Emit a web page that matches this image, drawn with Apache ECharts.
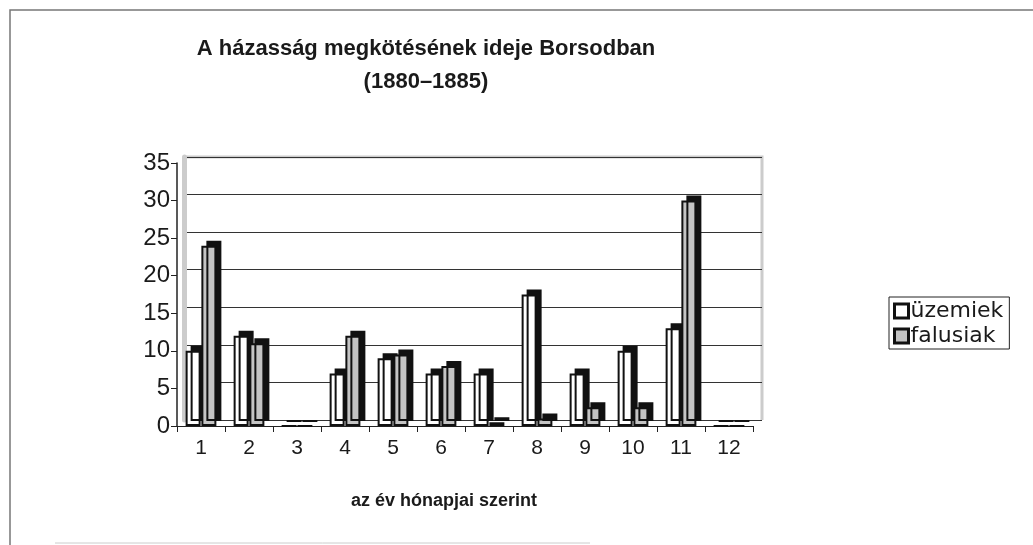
<!DOCTYPE html>
<html>
<head>
<meta charset="utf-8">
<script src="https://cdn.jsdelivr.net/npm/echarts@6/dist/echarts.min.js"></script>
<style>
  html, body { margin: 0; padding: 0; background: #fff; }
  #chart { width: 1033px; height: 545px; }
</style>
</head>
<body>
<div id="chart"></div>
<script>
// months of the year
const months = ['1', '2', '3', '4', '5', '6', '7', '8', '9', '10', '11', '12']
const uzemiek = [10, 12, 0, 7, 9, 7, 7, 17.5, 7, 10, 13, 0]
const falusiak = [24, 11, 0, 12, 9.5, 8, 0.5, 1, 2.5, 2.5, 30, 0]
const yTicks = [0, 35, 5] // min, max, interval

const font = 'Liberation Sans, Arial, sans-serif'

const chart = echarts.init(document.getElementById('chart'))

const barStyle = (fill) => ({
  color: fill,
  borderColor: '#111',
  borderWidth: 2,
  shadowColor: '#111',
  shadowBlur: 0,
  shadowOffsetX: 5,
  shadowOffsetY: -5,
})

chart.setOption({
  animation: false,
  backgroundColor: '#fff',
  textStyle: { fontFamily: font },
  title: [
    {
      text: 'A házasság megkötésének ideje Borsodban\n(1880–1885)',
      left: 421,
      top: 27,
      textAlign: 'center',
      textStyle: { fontSize: 22, fontWeight: 'bold', color: '#1a1a1a', lineHeight: 33, fontFamily: font },
    },
    {
      text: 'az év hónapjai szerint',
      left: 439,
      top: 487,
      textAlign: 'center',
      textStyle: { fontSize: 18, fontWeight: 'bold', color: '#1a1a1a', fontFamily: font },
    },
  ],
  legend: {
    orient: 'vertical',
    left: 889,
    top: 297,
    padding: [3, 6, 2, 4],
    borderColor: '#222',
    borderWidth: 1,
    itemWidth: 14,
    itemHeight: 14,
    itemGap: 3,
    icon: 'rect',
    itemStyle: { borderWidth: 3, borderColor: '#111', shadowOffsetX: 0, shadowOffsetY: 0 },
    textStyle: { fontSize: 22, color: '#1a1a1a', fontFamily: 'DejaVu Sans, sans-serif', padding: [0, 0, 0, -3] },
    data: ['üzemiek', 'falusiak'],
  },
  grid: [
    { left: 177, right: 280, top: 163, bottom: 119 },
    // back wall, shifted up and right for the 3D look
    { left: 184, right: 271, top: 157, bottom: 125 },
  ],
  xAxis: [
    {
      type: 'category',
      data: months,
      gridIndex: 0,
      axisLine: { lineStyle: { color: '#222', width: 1 } },
      axisTick: { show: true, length: 6, lineStyle: { color: '#222' } },
      axisLabel: { fontSize: 21, color: '#1a1a1a', margin: 12, fontFamily: font },
    },
    {
      type: 'category',
      data: months,
      gridIndex: 1,
      show: false,
    },
  ],
  yAxis: [
    {
      type: 'value',
      gridIndex: 0,
      min: yTicks[0],
      max: yTicks[1],
      interval: yTicks[2],
      axisLine: { show: true, lineStyle: { color: '#222', width: 1.5 } },
      axisTick: { show: true, length: 6, lineStyle: { color: '#222' } },
      axisLabel: { fontSize: 24, color: '#1a1a1a', margin: 7, fontFamily: font },
      splitLine: { show: false },
    },
    {
      type: 'value',
      gridIndex: 1,
      min: yTicks[0],
      max: yTicks[1],
      interval: yTicks[2],
      axisLine: { show: true, lineStyle: { color: '#ccc', width: 5 } },
      axisTick: { show: false },
      axisLabel: { show: false },
      splitLine: { show: true, lineStyle: { color: '#333', width: 1.2 } },
    },
  ],
  graphic: [
    {
      type: 'polyline',
      shape: { points: [[10, 545], [10, 10], [1033, 10]] },
      style: { stroke: '#777', lineWidth: 1.5, fill: null },
      silent: true,
    },
    {
      type: 'line',
      shape: { x1: 55, y1: 543, x2: 590, y2: 543 },
      style: { stroke: '#ccc', lineWidth: 1 },
      silent: true,
    },
    {
      type: 'polyline',
      shape: { points: [[184, 157], [762, 157], [762, 420]] },
      style: { stroke: '#ccc', lineWidth: 3, fill: null },
      silent: true,
      z: -1,
    },
  ],
  series: [
    {
      name: 'üzemiek',
      type: 'bar',
      data: uzemiek,
      barWidth: 15,
      barGap: '5%',
      z: 5,
      itemStyle: barStyle('#fff'),
    },
    {
      name: 'falusiak',
      type: 'bar',
      data: falusiak,
      barWidth: 15,
      z: 5,
      itemStyle: barStyle('#c4c4c4'),
    },
  ],
})
</script>
</body>
</html>
